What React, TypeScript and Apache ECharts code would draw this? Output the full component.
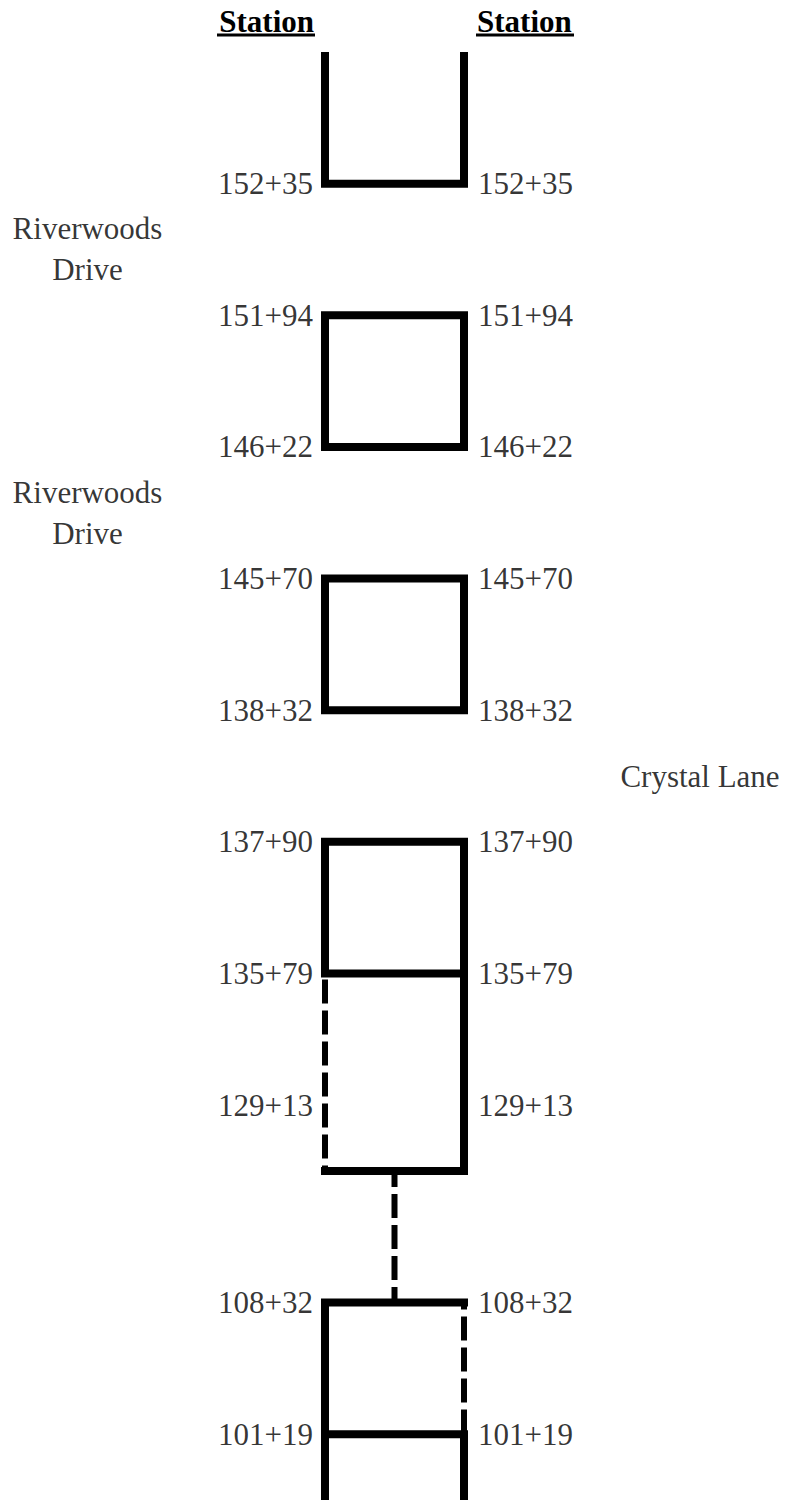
import React, { useEffect, useRef } from "react";
import * as echarts from "echarts";

// ---- data ----
const stations = ["152+35", "151+94", "146+22", "145+70", "138+32", "137+90", "135+79", "129+13", "108+32", "101+19"];
const stationSlots = [0, 1, 2, 3, 4, 5, 6, 7, 8.5, 9.5];

const streetNames = ["Riverwoods\nDrive", "Riverwoods\nDrive", "Crystal Lane"];
const streetSlots = [0.5, 2.5, 4.5];
const streetSides = ["left", "left", "right"];

const headerText = "Station";

// road segments in (lane, slot) units: lane 0 = left edge, 1 = right edge
const approachTop = [[0, -1], [0, 0], [1, 0], [1, -1]];
const blockA = [[0, 1], [1, 1], [1, 2], [0, 2], [0, 1]];
const blockB = [[0, 3], [1, 3], [1, 4], [0, 4], [0, 3]];
const blockC = [[1, 6], [0, 6], [0, 5], [1, 5], [1, 7.5], [0, 7.5]];
const blockD = [[1, 8.5], [0, 8.5], [0, 10]];
const blockE = [[0, 9.5], [1, 9.5], [1, 10]];

const dashedLeft = [[0, 6], [0, 7.5]];
const dashedMid = [[0.5, 7.5], [0.5, 8.5]];
const dashedRight = [[1, 8.5], [1, 9.5]];

// ---- layout ----
const W = 786;
const H = 1500;
const LEFT_PX = 325;
const RIGHT_PX = 464;
const UNIT_X = RIGHT_PX - LEFT_PX;
const TOP_PX = 52;
const UNIT_Y = 132;
const Y_MIN = -1;
const Y_MAX = 10;
const STREET_LEFT_X = (87.5 - LEFT_PX) / UNIT_X;
const STREET_RIGHT_X = (700 - LEFT_PX) / UNIT_X;
const FONT = "Liberation Serif";
const FS = 31;

function solid(data: number[][], cap: string) {
  return {
    type: "line",
    data,
    showSymbol: false,
    symbol: "none",
    silent: true,
    lineStyle: { color: "#000", width: 8, join: "miter", cap, type: "solid" },
  };
}

function dashed(data: number[][], offset: number) {
  return {
    type: "line",
    data,
    showSymbol: false,
    symbol: "none",
    silent: true,
    lineStyle: { color: "#000", width: 6, type: [24, 7], dashOffset: offset, cap: "butt" },
  };
}

export default function App() {
  const ref = useRef<HTMLDivElement>(null);
  useEffect(() => {
    if (!ref.current) return;
    const chart = echarts.init(ref.current, undefined, { renderer: "svg" });
    const labelBase = { fontFamily: FONT, fontSize: FS, color: "#000" };
    const option = {
      animation: false,
      backgroundColor: "#fff",
      textStyle: { fontFamily: FONT },
      grid: { left: 0, top: TOP_PX, width: W, height: UNIT_Y * (Y_MAX - Y_MIN) },
      xAxis: {
        type: "value",
        min: -LEFT_PX / UNIT_X,
        max: (W - LEFT_PX) / UNIT_X,
        show: false,
      },
      yAxis: { type: "value", inverse: true, min: Y_MIN, max: Y_MAX, show: false },
      graphic: [
        {
          type: "text",
          x: LEFT_PX - 11,
          y: 21,
          style: { text: headerText, fontFamily: FONT, fontSize: FS, fontWeight: "bold", fill: "#000", align: "right", verticalAlign: "middle" },
        },
        { type: "rect", shape: { x: 217, y: 33.5, width: 98, height: 3 }, style: { fill: "#000" } },
        {
          type: "text",
          x: RIGHT_PX + 13,
          y: 21,
          style: { text: headerText, fontFamily: FONT, fontSize: FS, fontWeight: "bold", fill: "#000", align: "left", verticalAlign: "middle" },
        },
        { type: "rect", shape: { x: 476, y: 33.5, width: 98, height: 3 }, style: { fill: "#000" } },
      ],
      series: [
        solid(approachTop, "butt"),
        solid(blockA, "square"),
        solid(blockB, "square"),
        solid(blockC, "square"),
        solid(blockD, "square"),
        solid(blockE, "square"),
        dashed(dashedLeft, 25),
        dashed(dashedMid, 8),
        dashed(dashedRight, 17.3),
        {
          type: "scatter",
          silent: true,
          symbolSize: 0,
          itemStyle: { color: "transparent" },
          data: stationSlots.map((s, i) => ({ value: [0, s], name: stations[i] })),
          label: { show: true, position: "left", distance: 12, formatter: "{b}", ...labelBase },
        },
        {
          type: "scatter",
          silent: true,
          symbolSize: 0,
          itemStyle: { color: "transparent" },
          data: stationSlots.map((s, i) => ({ value: [1, s], name: stations[i] })),
          label: { show: true, position: "right", distance: 14, formatter: "{b}", ...labelBase },
        },
        {
          type: "scatter",
          silent: true,
          symbolSize: 0,
          clip: false,
          itemStyle: { color: "transparent" },
          data: streetSlots.map((s, i) => ({
            value: [streetSides[i] === "left" ? STREET_LEFT_X : STREET_RIGHT_X, s],
            name: streetNames[i],
          })),
          label: { show: true, position: "inside", align: "center", verticalAlign: "middle", lineHeight: 41, formatter: "{b}", ...labelBase },
        },
      ],
    };
    chart.setOption(option as any);
    return () => chart.dispose();
  }, []);
  return <div ref={ref} style={{ position: "absolute", left: 0, top: 0, width: W, height: H }} />;
}
